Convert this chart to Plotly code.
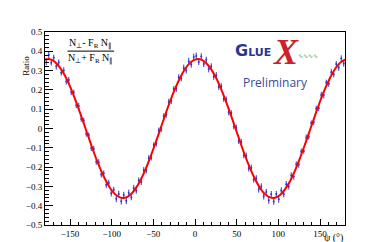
import numpy as np
import plotly.graph_objects as go

# ---- data: ratio per psi bin (3 deg bins)
psi_bins = np.arange(-178.5, 180, 3)
ratio = [
    0.343, 0.381, 0.341, 0.366, 0.322, 0.342, 0.289, 0.301, 0.243, 0.251,
    0.188, 0.187, 0.120, 0.117, 0.049, 0.041, -0.027, -0.034, -0.101, -0.105,
    -0.172, -0.176, -0.238, -0.232, -0.292, -0.282, -0.335, -0.318, -0.364, -0.339,
    -0.377, -0.344, -0.374, -0.334, -0.356, -0.309, -0.322, -0.268, -0.277, -0.216,
    -0.218, -0.154, -0.151, -0.086, -0.079, -0.011, -0.004, 0.064, 0.071, 0.138,
    0.142, 0.205, 0.206, 0.265, 0.259, 0.314, 0.301, 0.349, 0.331, 0.371,
    0.376, 0.345, 0.373, 0.334, 0.356, 0.308, 0.323, 0.268, 0.276, 0.215,
    0.219, 0.153, 0.152, 0.084, 0.080, 0.010, 0.005, -0.066, -0.070, -0.139,
    -0.141, -0.207, -0.204, -0.266, -0.258, -0.315, -0.300, -0.351, -0.329, -0.372,
    -0.341, -0.378, -0.340, -0.367, -0.321, -0.341, -0.289, -0.301, -0.243, -0.249,
    -0.185, -0.187, -0.119, -0.117, -0.047, -0.043, 0.028, 0.032, 0.103, 0.105,
    0.174, 0.173, 0.238, 0.232, 0.292, 0.281, 0.334, 0.316, 0.363, 0.337,
]
ratio_err = [
    0.016, 0.017, 0.015, 0.016, 0.017, 0.016, 0.015, 0.016, 0.015, 0.016,
    0.015, 0.014, 0.015, 0.016, 0.014, 0.015, 0.015, 0.014, 0.016, 0.015,
    0.016, 0.017, 0.016, 0.015, 0.017, 0.016, 0.017, 0.016, 0.018, 0.017,
    0.017, 0.016, 0.018, 0.017, 0.016, 0.017, 0.016, 0.015, 0.016, 0.016,
    0.015, 0.016, 0.015, 0.014, 0.015, 0.016, 0.014, 0.015, 0.015, 0.016,
    0.016, 0.015, 0.017, 0.016, 0.015, 0.017, 0.016, 0.017, 0.016, 0.017,
    0.017, 0.016, 0.017, 0.016, 0.016, 0.017, 0.015, 0.016, 0.016, 0.015,
    0.016, 0.015, 0.014, 0.016, 0.015, 0.014, 0.015, 0.014, 0.016, 0.015,
    0.016, 0.016, 0.017, 0.015, 0.016, 0.017, 0.016, 0.017, 0.016, 0.018,
    0.017, 0.017, 0.016, 0.018, 0.016, 0.016, 0.017, 0.015, 0.016, 0.016,
    0.015, 0.016, 0.015, 0.014, 0.016, 0.015, 0.014, 0.015, 0.015, 0.016,
    0.016, 0.017, 0.015, 0.016, 0.017, 0.016, 0.015, 0.017, 0.016, 0.017,
]

# ---- fit curve, sampled every 6 deg
fit_psi = np.arange(-180, 181, 6)
fit_ratio = [
    0.357, 0.359, 0.345, 0.315, 0.273, 0.218, 0.153, 0.082, 0.008, -0.067,
    -0.140, -0.205, -0.262, -0.308, -0.340, -0.357, -0.359, -0.345, -0.315, -0.273,
    -0.218, -0.153, -0.082, -0.008, 0.067, 0.140, 0.205, 0.262, 0.308, 0.340,
    0.357, 0.359, 0.345, 0.315, 0.273, 0.218, 0.153, 0.082, 0.008, -0.067,
    -0.140, -0.205, -0.262, -0.308, -0.340, -0.357, -0.359, -0.345, -0.315, -0.273,
    -0.218, -0.153, -0.082, -0.008, 0.067, 0.140, 0.205, 0.262, 0.308, 0.340,
    0.357,
]

SERIF = "Liberation Serif"
BLUE = "#3434c4"
LOGO_BLUE = "#2b3590"

fig = go.Figure()

fig.add_trace(go.Scatter(
    x=psi_bins, y=ratio, mode="markers",
    marker=dict(color=BLUE, size=2),
    error_y=dict(type="data", array=ratio_err, color=BLUE, thickness=1, width=0),
    showlegend=False,
))
fig.add_trace(go.Scatter(
    x=fit_psi, y=fit_ratio, mode="lines",
    line=dict(color="#ff0000", width=2, shape="spline"),
    showlegend=False,
))

axis_common = dict(
    showline=True, linecolor="black", linewidth=1, mirror=True,
    ticks="inside", tickcolor="black", automargin=False,
    showgrid=False, zeroline=False,
    tickfont=dict(family=SERIF, size=9, color="black"),
)
fig.update_xaxes(
    range=[-180, 180], dtick=50, tick0=0, ticklen=6,
    minor=dict(ticks="inside", dtick=10, ticklen=3, tickcolor="black"),
    **axis_common,
)
fig.update_yaxes(
    range=[-0.5, 0.5], dtick=0.1, tick0=0, ticklen=8,
    minor=dict(ticks="inside", dtick=0.02, ticklen=4, tickcolor="black"),
    **axis_common,
)

# ---- formula box
fig.add_annotation(x=-126, y=0.443, text="N<sub>⊥</sub>- F<sub>R</sub> N<sub>∥</sub>",
                   showarrow=False, font=dict(family=SERIF, size=10, color="black"))
fig.add_annotation(x=-126, y=0.362, text="N<sub>⊥</sub>+ F<sub>R</sub> N<sub>∥</sub>",
                   showarrow=False, font=dict(family=SERIF, size=10, color="black"))
fig.add_shape(type="line", x0=-153, x1=-97, y0=0.401, y1=0.401,
              line=dict(color="black", width=1))

# ---- GlueX logo
fig.add_annotation(x=45, y=0.405, xanchor="left",
                   text="<b>G<span style='font-size:11px'>LUE</span></b>",
                   showarrow=False,
                   font=dict(family="DejaVu Sans", size=16, color=LOGO_BLUE))
fig.add_annotation(x=109, y=0.395, text="<b><i>X</i></b>", showarrow=False,
                   font=dict(family=SERIF, size=36, color="#cc2229"))
fig.add_annotation(x=136, y=0.38, text="∿∿∿∿", showarrow=False,
                   font=dict(family="DejaVu Sans", size=6, color="#3aa040"))
fig.add_annotation(x=97, y=0.236, text="Preliminary", showarrow=False,
                   font=dict(family="Open Sans", size=12, color="#3b4a9c"))

# ---- axis titles
fig.add_annotation(xref="paper", yref="paper", x=1, y=-0.068, xanchor="right",
                   yanchor="middle", text="ψ (°)", showarrow=False,
                   font=dict(family=SERIF, size=10, color="black"))
fig.add_annotation(xref="paper", yref="paper", x=-0.085, y=0.89, textangle=-90,
                   text="Ratio", showarrow=False,
                   font=dict(family=SERIF, size=9, color="black"))

fig.update_layout(
    width=374, height=242, autosize=False,
    plot_bgcolor="white", paper_bgcolor="white",
    margin=dict(l=37, r=37, t=24, b=25),
)

fig.write_html("out.html")
